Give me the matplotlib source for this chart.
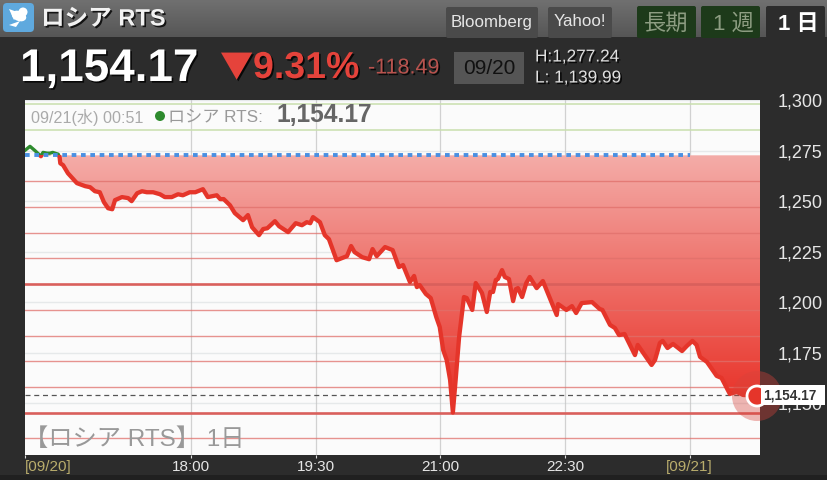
import numpy as np
import matplotlib
matplotlib.use('Agg')
import matplotlib.pyplot as plt
import matplotlib.patheffects as pe
from matplotlib.patches import Rectangle, FancyBboxPatch, Circle, Ellipse, Polygon

FONT = ['Liberation Sans', 'Noto Sans CJK JP', 'DejaVu Sans']
plt.rcParams['font.family'] = FONT

# minutes after 16:00 on 09/20
minutes = [0, 3.6, 7, 11.5, 13, 16, 18, 20, 24, 25, 25.5, 27.5, 31, 37.5, 43.5, 47, 50.5, 54, 57, 60,
           63, 65, 70, 74.5, 77, 81, 84.5, 88, 92.5, 97.5, 101, 106, 110.5, 114, 119, 123, 128.5, 132, 138.5, 141,
           143.5, 148, 151.5, 157.5, 161, 164, 169, 172, 175, 180.5, 183.5, 190, 195.5, 200, 203.5, 206, 208, 213, 216.5, 219.5,
           225, 232.5, 235.5, 238, 243.5, 248.5, 251, 254, 260, 265.5, 270, 273, 278, 281, 283, 285, 289.5, 293, 297, 299.5,
           302, 304.5, 307, 309, 311, 313.5, 317, 319, 323, 325.5, 330, 333.5, 336, 338, 340, 341.5, 344.5, 346.5, 349.5, 352.5,
           354.5, 356, 359, 362, 364.5, 369.5, 374, 379, 384, 385, 391, 395, 398, 402, 409.5, 415, 417, 422.5, 426, 429,
           433, 440.5, 442.5, 452.5, 455, 458.5, 460.5, 464, 468, 474.5, 478, 482, 485, 487.5, 492.5, 499.5, 503, 509, 514, 518.5,
           528.5, 531]
prices = [1275.1, 1277.1, 1275.1, 1272.2, 1274.1, 1273.7, 1273.7, 1274.1, 1273.2, 1271.7, 1268.7, 1267.8, 1263.8, 1258.9, 1257.4, 1256.9, 1254.9, 1254.4, 1249.5, 1246.5,
          1246.0, 1250.5, 1252.0, 1251.5, 1250.0, 1253.9, 1254.9, 1254.4, 1254.4, 1253.4, 1252.0, 1252.0, 1253.4, 1252.9, 1254.4, 1254.4, 1255.9, 1252.0, 1252.9, 1251.0,
          1251.0, 1248.0, 1244.1, 1240.6, 1243.1, 1237.1, 1233.2, 1236.2, 1236.6, 1240.1, 1237.6, 1234.7, 1239.1, 1238.1, 1239.6, 1239.1, 1242.1, 1239.6, 1233.2, 1231.2,
          1220.8, 1222.8, 1227.8, 1224.8, 1222.3, 1221.3, 1226.3, 1222.8, 1227.3, 1225.8, 1217.4, 1218.4, 1210.0, 1213.0, 1207.5, 1208.5, 1204.1, 1202.1, 1192.7, 1187.8,
          1176.4, 1171.5, 1161.6, 1145.5, 1161.6, 1182.8, 1202.6, 1202.1, 1196.2, 1209.5, 1204.6, 1195.2, 1205.1, 1205.1, 1211.0, 1211.5, 1215.9, 1212.5, 1211.5, 1200.6,
          1206.5, 1207.0, 1202.6, 1209.5, 1212.5, 1207.0, 1210.5, 1202.1, 1193.7, 1199.1, 1196.2, 1198.1, 1194.7, 1199.6, 1200.1, 1196.7, 1196.2, 1188.8, 1187.3, 1183.8,
          1184.3, 1173.9, 1178.9, 1169.0, 1171.5, 1179.9, 1180.9, 1177.4, 1179.4, 1175.9, 1178.4, 1180.9, 1178.9, 1173.0, 1170.5, 1163.6, 1162.6, 1154.7, 1155.7, 1154.2,
          1153.7, 1154.17]

prev_close = 1272.66
last_price = 1154.17
up_levels = [1285.39, 1298.12]
down_levels = [1259.93, 1247.21, 1234.48, 1221.75, 1209.03, 1196.30, 1183.57, 1170.85, 1158.12, 1145.39, 1132.67]
thick_levels = [1209.03, 1145.39]

y_ticks = [1150, 1175, 1200, 1225, 1250, 1275, 1300]
y_labels = ['1,150', '1,175', '1,200', '1,225', '1,250', '1,275', '1,300']
x_ticks = [0, 120, 210, 300, 390, 480]
x_labels = ['[09/20]', '18:00', '19:30', '21:00', '22:30', '[09/21]']

X_MAX, Y_MIN, Y_MAX = 530.8, 1124.5, 1299.8

fig = plt.figure(figsize=(8.28, 4.8), dpi=100, facecolor='#2c2c2c')
ax = fig.add_axes([25 / 828, 1 - 455 / 480, 735 / 828, 355 / 480], facecolor='#fbfbfb')

# gradient fill between the previous close and the price line
top = np.array([244, 172, 168, 255]) / 255
bottom = np.array([232, 45, 35, 255]) / 255
t = np.linspace(0, 1, 256)[:, None]
grad = (top * (1 - t) + bottom * t)[:, None, :]
im = ax.imshow(grad, extent=[0, X_MAX, Y_MIN + 21, prev_close], aspect='auto', zorder=1, origin='upper')
mins = np.array(minutes)
vals = np.array(prices)
below = np.minimum(vals, prev_close)
poly = Polygon(np.vstack([np.column_stack([mins, below]), [[X_MAX, below[-1]], [X_MAX, prev_close], [0, prev_close]]]),
               transform=ax.transData, fc='none', ec='none')
ax.add_patch(poly)
im.set_clip_path(poly)

for tv in y_ticks:
    ax.axhline(tv, color='#e6e9ea', lw=1, zorder=0.5)
for tx in x_ticks[1:]:
    ax.axvline(tx, color='#c4c4c4', lw=0.9, alpha=0.75, zorder=0.8)
for lv in up_levels:
    ax.axhline(lv, color='#c9dfae', lw=1.1, zorder=2)
for lv in down_levels:
    if lv in thick_levels:
        ax.axhline(lv, color='#d9605c', lw=1.9, zorder=2)
    else:
        ax.axhline(lv, color='#e0706b', lw=1.0, alpha=0.75, zorder=2)

ax.axhline(last_price, color='#555555', lw=0.9, ls=(0, (4, 3)), zorder=3)
ax.plot([0, 480], [prev_close, prev_close], color='#4a90e2', lw=2.8, ls=(0, (1.2, 1.2)), zorder=5)

red_line, = ax.plot(minutes, prices, color='#e5352a', lw=3.1, zorder=4, solid_joinstyle='round')
red_line.set_clip_path(Rectangle((0, Y_MIN), X_MAX, prev_close - Y_MIN, transform=ax.transData))
green_line, = ax.plot(minutes, prices, color='#2e8b2e', lw=2.4, zorder=4)
green_line.set_clip_path(Rectangle((0, prev_close), X_MAX, Y_MAX - prev_close, transform=ax.transData))

ax.set_xlim(0, X_MAX)
ax.set_ylim(Y_MIN, Y_MAX)
ax.yaxis.tick_right()
ax.set_yticks(y_ticks, y_labels)
ax.tick_params(axis='y', length=0, pad=13, labelsize=13, labelcolor='#e6e6e6')
ax.set_xticks(x_ticks, x_labels)
ax.tick_params(axis='x', length=2, color='#dddddd', pad=1.5, labelsize=11, labelcolor='#e6e6e6')
xl = ax.get_xticklabels()
xl[0].set_ha('left')
xl[0].set_color('#b9ad6c')
xl[5].set_color('#b9ad6c')
for s in ax.spines.values():
    s.set_visible(False)

# everything around the chart, in pixel units
ov = fig.add_axes([0, 0, 1, 1], facecolor='none')
ov.set_xlim(0, 828)
ov.set_ylim(480, 0)
ov.axis('off')

def txt(x, y, s, size, color, weight='normal', ha='left', sh=False, zorder=6):
    t = ov.text(x, y, s, fontsize=size, color=color, fontweight=weight, ha=ha, va='center', zorder=zorder)
    if sh:
        t.set_path_effects([pe.withSimplePatchShadow(offset=(1.2, -1.2), shadow_rgbFace='k', alpha=0.8)])
    return t

# top bar
bar = np.linspace(0, 1, 64)[:, None]
ov.imshow(bar, extent=[0, 828, 37, 0], cmap=matplotlib.colors.LinearSegmentedColormap.from_list('b', ['#707070', '#565656']),
          aspect='auto', zorder=1)
ov.set_xlim(0, 828)
ov.set_ylim(480, 0)
ov.add_patch(Rectangle((0, 475), 828, 5, fc='#202020', ec='none', zorder=1))

def button(x0, x1, y0, fc):
    ov.add_patch(FancyBboxPatch((x0, y0), x1 - x0, 38 - y0, boxstyle='round,pad=0,rounding_size=2', fc=fc, ec='none', zorder=2))

button(446, 538, 7, '#4a4a4a')
button(548, 612, 7, '#4a4a4a')
button(637, 696, 6, '#1d3a1a')
button(701, 760, 6, '#1d3a1a')
button(766, 825, 6, '#2c2c2c')
txt(492, 22, 'Bloomberg', 12.2, '#e6e6e6', ha='center')
txt(580, 22, 'Yahoo!', 12.2, '#e6e6e6', ha='center')
txt(666, 24, '長期', 16, '#8d9d82', ha='center')
txt(733, 24, '1 週', 16, '#8d9d82', ha='center')
txt(798, 24, '1 日', 16, '#ffffff', weight='bold', ha='center')

# twitter icon
ov.add_patch(FancyBboxPatch((3, 3), 31, 29, boxstyle='round,pad=0,rounding_size=4', fc='#5fa9de', ec='none', zorder=3))
ov.add_patch(Ellipse((19, 16), 15, 10, angle=20, fc='white', ec='none', zorder=4))
ov.add_patch(Polygon([[9, 9], [20, 13], [14, 20]], fc='white', ec='none', zorder=4))
ov.add_patch(Polygon([[9, 25], [20, 21], [16, 27]], fc='white', ec='none', zorder=4))
ov.add_patch(Circle((23, 12), 4.5, fc='white', ec='none', zorder=4))

txt(41, 19, 'ロシア RTS', 17, '#f2f2f2', weight='bold', sh=True)

# price header
txt(20, 69, '1,154.17', 33, '#ffffff', weight='bold', sh=True)
txt(220, 68, '▼', 24, '#e5433b', sh=True).set_family(['Noto Sans CJK JP', 'DejaVu Sans'])
txt(253, 68, '9.31%', 27, '#e5433b', weight='bold', sh=True)
txt(368, 68, '-118.49', 15.5, '#b9534e', sh=True)
ov.add_patch(Rectangle((454, 52), 70, 32, fc='#555555', ec='none', zorder=2))
txt(489, 68, '09/20', 15, '#111111', ha='center')
txt(535, 57, 'H:1,277.24', 12.4, '#e0e0e0', sh=True)
txt(535, 78, 'L: 1,139.99', 12.4, '#e0e0e0', sh=True)

# texts inside the chart
txt(31, 117, '09/21(水) 00:51', 11.6, '#aaaaaa')
ov.add_patch(Circle((160, 116), 5, fc='#2e8b2e', ec='none', zorder=6))
txt(168, 117, 'ロシア RTS:', 12.3, '#999999')
txt(277, 115, '1,154.17', 17.7, '#666666', weight='bold')
txt(24, 440, '【ロシア RTS】 1日', 17.5, '#999999')

# current price marker and label
ov.add_patch(Circle((757, 396), 25, fc='#d8433b', ec='none', alpha=0.38, zorder=5))
ov.add_patch(Circle((757, 396), 10, fc='#e5352a', ec='white', lw=2, zorder=6))
ov.add_patch(Rectangle((761, 385), 64, 20, fc='white', ec='none', zorder=7))
txt(789.5, 395.5, '1,154.17', 9.8, '#333333', weight='bold', ha='center', zorder=8)

fig.savefig('out.png', dpi=100, facecolor=fig.get_facecolor())
